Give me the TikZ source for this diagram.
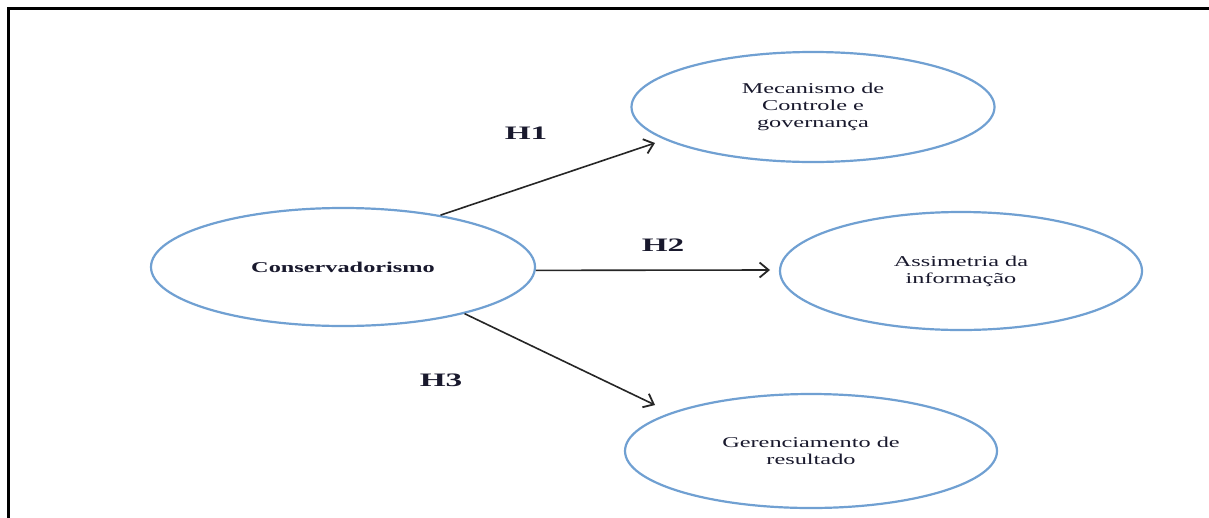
\documentclass[tikz,border=0pt]{standalone}
\usepackage{fontspec}
\setmainfont{Liberation Serif}
\newfontfamily\widefont[FakeStretch=1.62]{Liberation Serif}
\newfontfamily\hfont[FakeStretch=1.75]{Liberation Serif}
\usetikzlibrary{shapes.geometric,arrows.meta}
\definecolor{ellblue}{RGB}{112,160,210}
\definecolor{txt}{RGB}{25,25,45}
\tikzset{
  oval/.style={ellipse, draw=ellblue, line width=2.2pt, inner sep=0pt, align=center, text=txt,
    font=\widefont\fontsize{15}{17}\selectfont},
  hyp/.style={-{Straight Barb[length=9pt,width=15pt,line width=1.8pt]}, line width=1.6pt, draw=black!85},
  hlabel/.style={font=\hfont\bfseries\fontsize{19}{21}\selectfont, inner sep=0pt, text=txt},
  frame/.style={line width=3pt, line cap=rect}
}
\begin{document}
\begin{tikzpicture}[x=1pt,y=-1pt]
\useasboundingbox (0,0) rectangle (1209,517);
\fill[white] (0,0) rectangle (1209,517);
\coordinate (ftop) at (1209,8);
\coordinate (fcorner) at (8,8);
\coordinate (fbot) at (8,517);
\draw[frame] (ftop) -- (fcorner) -- (fbot);

\node[oval, minimum width=384, minimum height=118, font=\widefont\bfseries\fontsize{15}{17}\selectfont] (c) at (343,267) {Conservadorismo};
\node[oval, minimum width=363, minimum height=110] (m) at (813,107) {Mecanismo de\\Controle e\\governança};
\node[oval, minimum width=362, minimum height=118] (a) at (961,271) {Assimetria da\\informação};
\node[oval, minimum width=372, minimum height=114] (g) at (811,451) {Gerenciamento de\\resultado};

\coordinate (e1) at (655,143);
\coordinate (e2) at (770,270);
\coordinate (e3) at (655,405);
\draw[hyp] (c.28) -- (e1);
\draw[hyp] (c.-1) -- (e2);
\draw[hyp] (c.-21) -- (e3);

\node[hlabel] (h1) at (526,133) {H1};
\node[hlabel] (h2) at (663,245) {H2};
\node[hlabel] (h3) at (441,380) {H3};
\end{tikzpicture}
\end{document}
